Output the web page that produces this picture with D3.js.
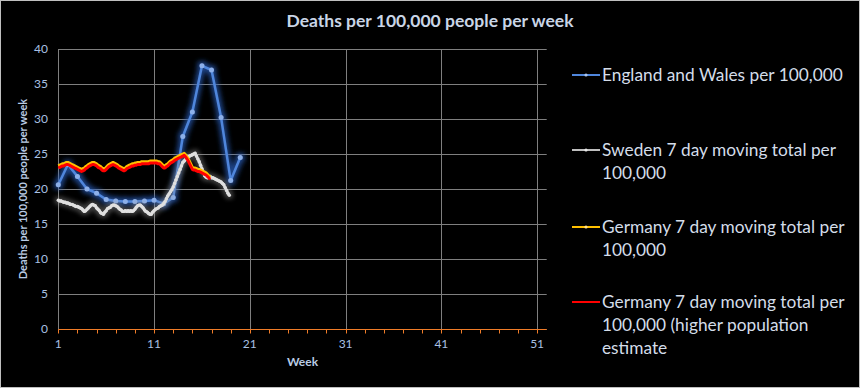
<!DOCTYPE html>
<html>
<head>
<meta charset="utf-8">
<script src="https://cdn.jsdelivr.net/npm/d3@7"></script>
<style>
  html, body { margin: 0; padding: 0; background: #000; }
  svg { display: block; font-family: Lato, "Open Sans", sans-serif; }
</style>
</head>
<body>
<svg id="chart"></svg>
<script>
// Weekly deaths, England and Wales (weeks 1..20)
const englandWeeks = d3.range(1, 21);
const englandValues = [20.6, 23.5, 21.8, 20.0, 19.4, 18.5, 18.3, 18.2, 18.2, 18.3,
    18.4, 17.9, 18.8, 27.5, 31.0, 37.6, 37.0, 30.2, 21.2, 24.5];

// Daily 7 day moving totals, starting on week 1 (one value per day)
const swedenDaily = [
    18.4, 18.3, 18.3, 18.2, 18.1, 18.1, 18.0, 18.0, 17.9, 17.8, 17.8, 17.7, 17.6, 17.5,
    17.5, 17.4, 17.3, 17.2, 17.0, 16.8, 16.9, 17.1, 17.3, 17.5, 17.7, 17.8, 17.7, 17.6,
    17.3, 17.1, 16.9, 16.6, 16.5, 16.4, 16.7, 16.9, 17.2, 17.3, 17.4, 17.6, 17.7, 17.7,
    17.6, 17.5, 17.3, 17.1, 17.0, 16.8, 16.8, 16.9, 16.8, 16.9, 16.8, 16.9, 16.8, 16.9,
    17.1, 17.4, 17.6, 17.7, 17.7, 17.5, 17.3, 17.0, 16.8, 16.7, 16.5, 16.4, 16.4, 16.7,
    16.9, 17.1, 17.2, 17.3, 17.5, 17.6, 17.7, 17.9, 18.2, 18.6, 19.0, 19.3, 19.6, 19.9,
    20.3, 20.8, 21.3, 21.8, 22.3, 22.8, 23.3, 23.8, 24.0, 24.2, 24.4, 24.6, 24.7, 24.8,
    24.9, 25.0, 25.1, 24.7, 24.3, 23.9, 23.4, 22.9, 22.4, 21.9, 21.7, 21.6, 21.7, 21.8,
    21.6, 21.6, 21.5, 21.4, 21.3, 21.2, 21.1, 21.0, 20.8, 20.6, 20.2, 19.8, 19.4, 19.1
];
const germanyDaily = [
    23.3, 23.4, 23.5, 23.6, 23.6, 23.7, 23.8, 23.8, 23.7, 23.6, 23.5, 23.4, 23.3, 23.2,
    23.1, 23.0, 22.9, 22.8, 22.9, 23.0, 23.2, 23.3, 23.5, 23.6, 23.7, 23.8, 23.8, 23.7,
    23.6, 23.4, 23.3, 23.2, 23.0, 22.9, 22.9, 23.1, 23.3, 23.5, 23.6, 23.7, 23.8, 23.7,
    23.6, 23.5, 23.3, 23.2, 23.1, 23.0, 22.9, 23.0, 23.2, 23.3, 23.4, 23.5, 23.6, 23.6,
    23.7, 23.7, 23.8, 23.8, 23.8, 23.9, 23.9, 23.9, 23.9, 23.9, 23.9, 24.0, 24.0, 24.0,
    24.0, 24.0, 24.0, 23.9, 23.9, 23.7, 23.5, 23.3, 23.3, 23.5, 23.6, 23.8, 24.0, 24.1,
    24.2, 24.4, 24.5, 24.6, 24.7, 24.8, 24.9, 25.0, 25.1, 24.9, 24.6, 24.3, 23.9, 23.5,
    23.1, 23.0, 23.0, 22.9, 22.8, 22.8, 22.7, 22.6, 22.5, 22.4, 22.3, 22.1, 21.9, 21.7
];
const germanyHighDaily = [
    23.0, 23.1, 23.2, 23.3, 23.3, 23.4, 23.5, 23.5, 23.4, 23.3, 23.2, 23.1, 23.0, 22.9,
    22.8, 22.7, 22.6, 22.5, 22.6, 22.7, 22.9, 23.0, 23.2, 23.3, 23.4, 23.5, 23.5, 23.4,
    23.3, 23.1, 23.0, 22.9, 22.7, 22.6, 22.6, 22.8, 23.0, 23.2, 23.3, 23.4, 23.5, 23.4,
    23.3, 23.2, 23.0, 22.9, 22.8, 22.7, 22.6, 22.7, 22.9, 23.0, 23.1, 23.2, 23.3, 23.3,
    23.4, 23.4, 23.5, 23.5, 23.5, 23.6, 23.6, 23.6, 23.6, 23.6, 23.6, 23.7, 23.7, 23.7,
    23.7, 23.7, 23.7, 23.6, 23.6, 23.4, 23.2, 23.0, 23.0, 23.2, 23.3, 23.5, 23.7, 23.8,
    23.9, 24.1, 24.2, 24.3, 24.4, 24.5, 24.6, 24.7, 24.8, 24.6, 24.3, 24.0, 23.6, 23.2,
    22.8, 22.7, 22.7, 22.6, 22.5, 22.5, 22.4, 22.3, 22.2, 22.1, 22.0, 21.8, 21.6, 21.4
];

const seriesNames = [
    "England and Wales per 100,000",
    "Sweden 7 day moving total per 100,000",
    "Germany 7 day moving total per 100,000",
    "Germany 7 day moving total per 100,000 (higher population estimate"
];
const xTickLabels = [1, 11, 21, 31, 41, 51];
const yTickValues = [0, 5, 10, 15, 20, 25, 30, 35, 40];

const width = 860;
const height = 388;
const margin = {left: 58.3, right: 313.3, top: 49, bottom: 59};

const svg = d3.select("#chart")
    .attr("width", width)
    .attr("height", height);

// outer frame
svg.append("rect")
    .attr("x", 0.5).attr("y", 0.5)
    .attr("width", width - 1).attr("height", height - 1)
    .attr("fill", "#000")
    .attr("stroke", "#bfbfbf");

const x = d3.scaleLinear()
    .domain([1, 52])
    .range([margin.left, width - margin.right]);
const y = d3.scaleLinear()
    .domain([0, 40])
    .range([height - margin.bottom, margin.top]);

// glow filters
const defs = svg.append("defs");
function addGlow(id, color, blur, opacity) {
    const f = defs.append("filter").attr("id", id)
        .attr("x", "-10%").attr("y", "-10%").attr("width", "120%").attr("height", "120%");
    f.append("feMorphology").attr("in", "SourceAlpha").attr("operator", "dilate").attr("radius", 1.5).attr("result", "thick");
    f.append("feGaussianBlur").attr("in", "thick").attr("stdDeviation", blur).attr("result", "blur");
    f.append("feFlood").attr("flood-color", color).attr("flood-opacity", opacity);
    f.append("feComposite").attr("in2", "blur").attr("operator", "in").attr("result", "glow");
    const m = f.append("feMerge");
    m.append("feMergeNode").attr("in", "glow");
    m.append("feMergeNode").attr("in", "SourceGraphic");
}
addGlow("glowBlue", "#2a62c4", 2.5, 0.7);
addGlow("glowGrey", "#9a9a9a", 2, 0.4);

// gridlines
svg.append("g")
    .selectAll("line")
    .data(yTickValues)
    .join("line")
    .attr("x1", x(1)).attr("x2", x(52))
    .attr("y1", d => Math.round(y(d)) + 0.5).attr("y2", d => Math.round(y(d)) + 0.5)
    .attr("stroke", "#7f7f7f");

svg.append("g")
    .selectAll("line")
    .data(xTickLabels)
    .join("line")
    .attr("x1", d => Math.round(x(d)) + 0.5).attr("x2", d => Math.round(x(d)) + 0.5)
    .attr("y1", y(40)).attr("y2", y(0))
    .attr("stroke", "#7f7f7f");

// x axis (orange)
const xAxis = d3.axisBottom(x)
    .tickValues(d3.range(1, 53, 2))
    .tickSize(4)
    .tickFormat("");
const gx = svg.append("g")
    .attr("transform", `translate(0, ${Math.round(y(0)) + 0.5})`)
    .call(xAxis);
gx.select(".domain").attr("stroke", "#f07c28").attr("d", `M${x(1)},0H${x(52)}`);
gx.selectAll(".tick")
    .attr("transform", d => `translate(${Math.round(x(d)) + 0.5},0)`);
gx.selectAll(".tick line").attr("stroke", "#f07c28");

svg.append("g")
    .selectAll("text")
    .data(xTickLabels)
    .join("text")
    .attr("x", d => x(d))
    .attr("y", 348)
    .attr("text-anchor", "middle")
    .attr("fill", "#a9c1e3")
    .style("font-size", "12px")
    .text(d => d);

// y tick labels
svg.append("g")
    .selectAll("text")
    .data(yTickValues)
    .join("text")
    .attr("x", 48)
    .attr("y", d => y(d) + 4)
    .attr("text-anchor", "end")
    .attr("fill", "#a9c1e3")
    .style("font-size", "12px")
    .text(d => d);

// titles
svg.append("text")
    .attr("x", 430).attr("y", 27)
    .attr("text-anchor", "middle")
    .attr("fill", "#c9d5e6")
    .style("font-size", "17.5px")
    .style("font-weight", "bold")
    .text("Deaths per 100,000 people per week");

svg.append("text")
    .attr("x", (x(1) + x(52)) / 2).attr("y", 366)
    .attr("text-anchor", "middle")
    .attr("fill", "#b9cbe4")
    .style("font-size", "12px")
    .style("font-weight", "bold")
    .text("Week");

svg.append("text")
    .attr("transform", `translate(27, ${(y(0) + y(40)) / 2}) rotate(-90)`)
    .attr("text-anchor", "middle")
    .attr("fill", "#b9cbe4")
    .style("font-size", "11px")
    .style("font-weight", "bold")
    .text("Deaths per 100,000 people per week");

// lines
const line = d3.line()
    .x(d => x(d[0]))
    .y(d => y(d[1]));

const daily = arr => arr.map((v, i) => [1 + i / 7, v]);
const england = englandValues.map((v, i) => [englandWeeks[i], v]);

const gEng = svg.append("g").attr("filter", "url(#glowBlue)");
gEng.append("path")
    .datum(england)
    .attr("d", line)
    .attr("fill", "none")
    .attr("stroke", "#4f86dc")
    .attr("stroke-width", 2.5)
    .attr("stroke-linejoin", "round");
gEng.selectAll("circle")
    .data(england)
    .join("circle")
    .attr("cx", d => x(d[0]))
    .attr("cy", d => y(d[1]))
    .attr("r", 2.5)
    .attr("fill", "#8cb0ea");

const gSwe = svg.append("g").attr("filter", "url(#glowGrey)");
gSwe.append("path")
    .datum(daily(swedenDaily))
    .attr("d", line)
    .attr("fill", "none")
    .attr("stroke", "#cfcfcf")
    .attr("stroke-width", 3)
    .attr("stroke-linejoin", "round");
gSwe.selectAll("circle")
    .data(daily(swedenDaily))
    .join("circle")
    .attr("cx", d => x(d[0]))
    .attr("cy", d => y(d[1]))
    .attr("r", 1.7)
    .attr("fill", "#e0e0e0");

svg.append("path")
    .datum(daily(germanyDaily))
    .attr("d", line)
    .attr("fill", "none")
    .attr("stroke", "#ffc000")
    .attr("stroke-width", 3)
    .attr("stroke-linejoin", "round");

svg.append("path")
    .datum(daily(germanyHighDaily))
    .attr("d", line)
    .attr("fill", "none")
    .attr("stroke", "#ff0000")
    .attr("stroke-width", 3)
    .attr("stroke-linejoin", "round");

// legend
const legendColors = ["#4f86dc", "#bfbfbf", "#ffc000", "#ff0000"];
const legendDots = ["#a9c4ee", "#e8e8e8", "#ffe08a", null];
const legendLines = [
    [seriesNames[0]],
    ["Sweden 7 day moving total per", "100,000"],
    ["Germany 7 day moving total per", "100,000"],
    ["Germany 7 day moving total per", "100,000 (higher population", "estimate"]
];
const legendY = [75, 150, 227, 302];

const legend = svg.append("g")
    .selectAll("g")
    .data(legendLines)
    .join("g")
    .attr("transform", (d, i) => `translate(572, ${legendY[i]})`);

legend.append("line")
    .attr("x1", 0).attr("x2", 28)
    .attr("y1", 0).attr("y2", 0)
    .attr("stroke", (d, i) => legendColors[i])
    .attr("stroke-width", 2);

legend.filter((d, i) => legendDots[i])
    .append("circle")
    .attr("cx", 14).attr("cy", 0).attr("r", 1.6)
    .attr("fill", (d, i) => legendDots[i]);

legend.append("text")
    .attr("x", 30)
    .attr("fill", "#d4dde9")
    .style("font-size", "17.3px")
    .selectAll("tspan")
    .data(d => d)
    .join("tspan")
    .attr("x", 30)
    .attr("y", (d, i) => 6 + i * 23)
    .text(d => d);
</script>
</body>
</html>
